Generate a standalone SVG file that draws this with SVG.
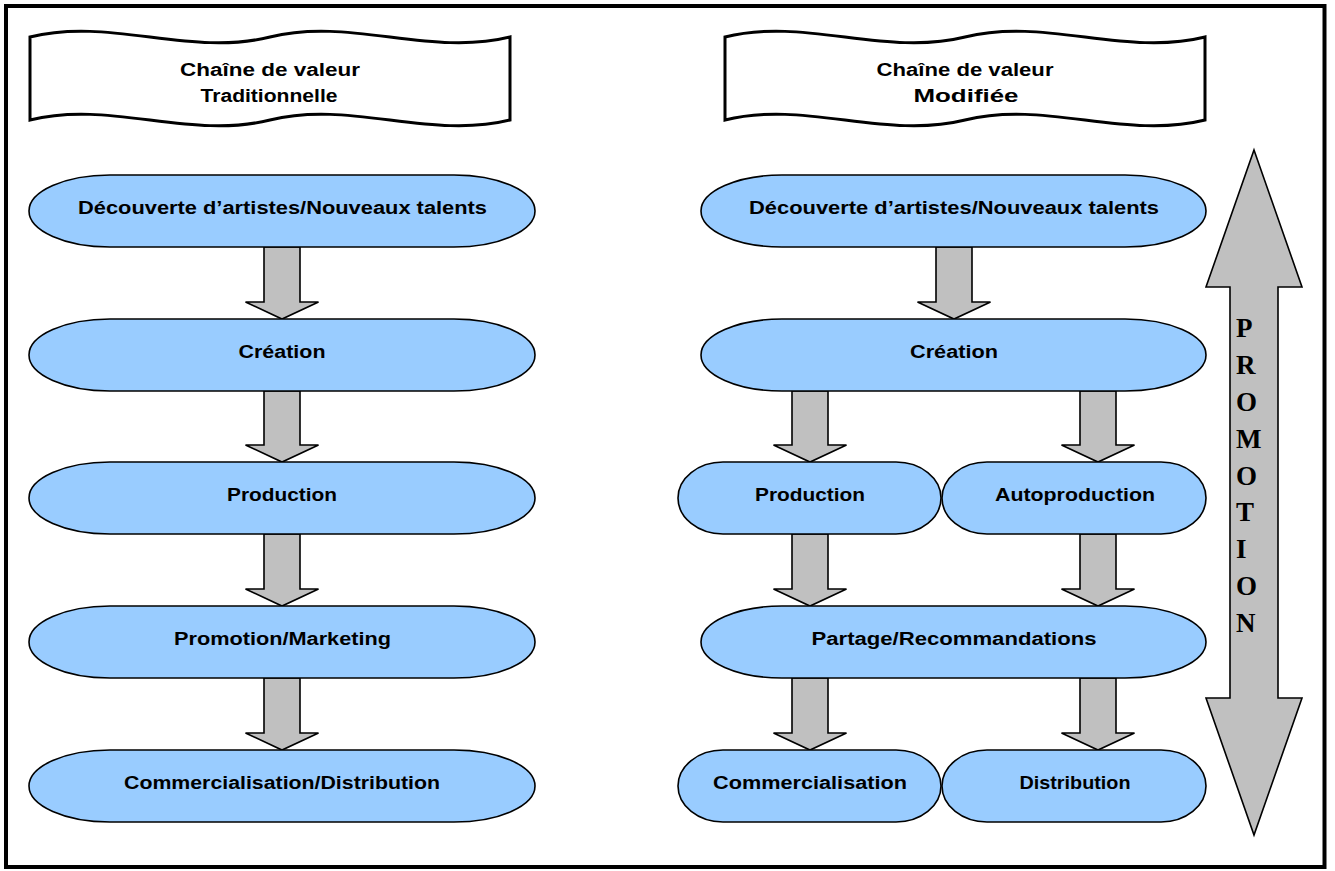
<svg xmlns="http://www.w3.org/2000/svg" width="1335" height="871" viewBox="0 0 1335 871">
<style>
.node{fill:#99CCFF;stroke:#000;stroke-width:1.6}
.arr{fill:#C0C0C0;stroke:#000;stroke-width:1.6;stroke-linejoin:miter}
.ban{fill:#fff;stroke:#000;stroke-width:3}
.lbl{font-family:"Liberation Sans",Arial,sans-serif;font-weight:bold;font-size:18px;fill:#000;text-anchor:middle}
.pr{font-family:"Liberation Serif","Times New Roman",serif;font-weight:bold;font-size:27px;fill:#000}
</style>
<rect x="0" y="0" width="1335" height="871" fill="#fff"/>
<rect x="6" y="6" width="1318.5" height="861" fill="none" stroke="#000" stroke-width="4"/>

<g id="banner-left">
<path class="ban" d="M30,37 C110,17 190,57 270,37 C350,17 430,57 510,37 L510,120 C430,140 350,100 270,120 C190,140 110,100 30,120 Z"/>
<text class="lbl" x="270" y="75.5" textLength="180" lengthAdjust="spacingAndGlyphs">Chaîne de valeur</text>
<text class="lbl" x="269" y="102" textLength="137" lengthAdjust="spacingAndGlyphs">Traditionnelle</text>
</g>
<g id="banner-right">
<path class="ban" d="M725,37 C805,17 885,57 965,37 C1045,17 1125,57 1205,37 L1205,120 C1125,140 1045,100 965,120 C885,140 805,100 725,120 Z"/>
<text class="lbl" x="965" y="75.5" textLength="177" lengthAdjust="spacingAndGlyphs">Chaîne de valeur</text>
<text class="lbl" x="966" y="102" textLength="105" lengthAdjust="spacingAndGlyphs">Modifiée</text>
</g>

<g id="connectors">
<path class="arr" d="M264,247 H300 V302 H318.5 L282,319 L245.5,302 H264 Z"/>
<path class="arr" d="M264,391 H300 V445 H318.5 L282,462 L245.5,445 H264 Z"/>
<path class="arr" d="M264,534 H300 V589 H318.5 L282,606 L245.5,589 H264 Z"/>
<path class="arr" d="M264,678 H300 V733 H318.5 L282,750 L245.5,733 H264 Z"/>
<path class="arr" d="M936,247 H972 V302 H990.5 L954,319 L917.5,302 H936 Z"/>
<path class="arr" d="M792,391 H828 V445 H846.5 L810,462 L773.5,445 H792 Z"/>
<path class="arr" d="M1080,391 H1116 V445 H1134.5 L1098,462 L1061.5,445 H1080 Z"/>
<path class="arr" d="M792,534 H828 V589 H846.5 L810,606 L773.5,589 H792 Z"/>
<path class="arr" d="M1080,534 H1116 V589 H1134.5 L1098,606 L1061.5,589 H1080 Z"/>
<path class="arr" d="M792,678 H828 V733 H846.5 L810,750 L773.5,733 H792 Z"/>
<path class="arr" d="M1080,678 H1116 V733 H1134.5 L1098,750 L1061.5,733 H1080 Z"/>
</g>

<g id="l-decouverte">
<path class="node" d="M110,175 H454 A81,36 0 0 1 454,247 H110 A81,36 0 0 1 110,175 Z"/>
<text class="lbl" x="282.5" y="214" textLength="409" lengthAdjust="spacingAndGlyphs">Découverte d’artistes/Nouveaux talents</text>
</g>
<g id="l-creation">
<path class="node" d="M110,319 H454 A81,36 0 0 1 454,391 H110 A81,36 0 0 1 110,319 Z"/>
<text class="lbl" x="282" y="358" textLength="87" lengthAdjust="spacingAndGlyphs">Création</text>
</g>
<g id="l-production">
<path class="node" d="M110,462 H454 A81,36 0 0 1 454,534 H110 A81,36 0 0 1 110,462 Z"/>
<text class="lbl" x="282" y="501" textLength="110" lengthAdjust="spacingAndGlyphs">Production</text>
</g>
<g id="l-promotion">
<path class="node" d="M110,606 H454 A81,36 0 0 1 454,678 H110 A81,36 0 0 1 110,606 Z"/>
<text class="lbl" x="282.5" y="645" textLength="217" lengthAdjust="spacingAndGlyphs">Promotion/Marketing</text>
</g>
<g id="l-commercialisation">
<path class="node" d="M110,750 H454 A81,36 0 0 1 454,822 H110 A81,36 0 0 1 110,750 Z"/>
<text class="lbl" x="282" y="789" textLength="316" lengthAdjust="spacingAndGlyphs">Commercialisation/Distribution</text>
</g>

<g id="r-decouverte">
<path class="node" d="M782,175 H1125 A81,36 0 0 1 1125,247 H782 A81,36 0 0 1 782,175 Z"/>
<text class="lbl" x="954" y="214" textLength="410" lengthAdjust="spacingAndGlyphs">Découverte d’artistes/Nouveaux talents</text>
</g>
<g id="r-creation">
<path class="node" d="M782,319 H1125 A81,36 0 0 1 1125,391 H782 A81,36 0 0 1 782,319 Z"/>
<text class="lbl" x="954" y="358" textLength="88" lengthAdjust="spacingAndGlyphs">Création</text>
</g>
<g id="r-production">
<path class="node" d="M723,462 H896 A45,36 0 0 1 896,534 H723 A45,36 0 0 1 723,462 Z"/>
<text class="lbl" x="810" y="501" textLength="110" lengthAdjust="spacingAndGlyphs">Production</text>
</g>
<g id="r-autoproduction">
<path class="node" d="M987,462 H1161 A45,36 0 0 1 1161,534 H987 A45,36 0 0 1 987,462 Z"/>
<text class="lbl" x="1075" y="501" textLength="160" lengthAdjust="spacingAndGlyphs">Autoproduction</text>
</g>
<g id="r-partage">
<path class="node" d="M782,606 H1125 A81,36 0 0 1 1125,678 H782 A81,36 0 0 1 782,606 Z"/>
<text class="lbl" x="954" y="645" textLength="285" lengthAdjust="spacingAndGlyphs">Partage/Recommandations</text>
</g>
<g id="r-commercialisation">
<path class="node" d="M723,750 H896 A45,36 0 0 1 896,822 H723 A45,36 0 0 1 723,750 Z"/>
<text class="lbl" x="810" y="789" textLength="194" lengthAdjust="spacingAndGlyphs">Commercialisation</text>
</g>
<g id="r-distribution">
<path class="node" d="M987,750 H1161 A45,36 0 0 1 1161,822 H987 A45,36 0 0 1 987,750 Z"/>
<text class="lbl" x="1075" y="789" textLength="111" lengthAdjust="spacingAndGlyphs">Distribution</text>
</g>

<g id="promotion">
<path class="arr" d="M1254,150 L1302,287 H1278 V698 H1302 L1254,835 L1206,698 H1230 V287 H1206 Z"/>
<text class="pr" x="1236" y="337">P</text>
<text class="pr" x="1236" y="374">R</text>
<text class="pr" x="1236" y="411">O</text>
<text class="pr" x="1236" y="448">M</text>
<text class="pr" x="1236" y="485">O</text>
<text class="pr" x="1236" y="521">T</text>
<text class="pr" x="1236" y="558">I</text>
<text class="pr" x="1236" y="595">O</text>
<text class="pr" x="1236" y="632">N</text>
</g>
</svg>
